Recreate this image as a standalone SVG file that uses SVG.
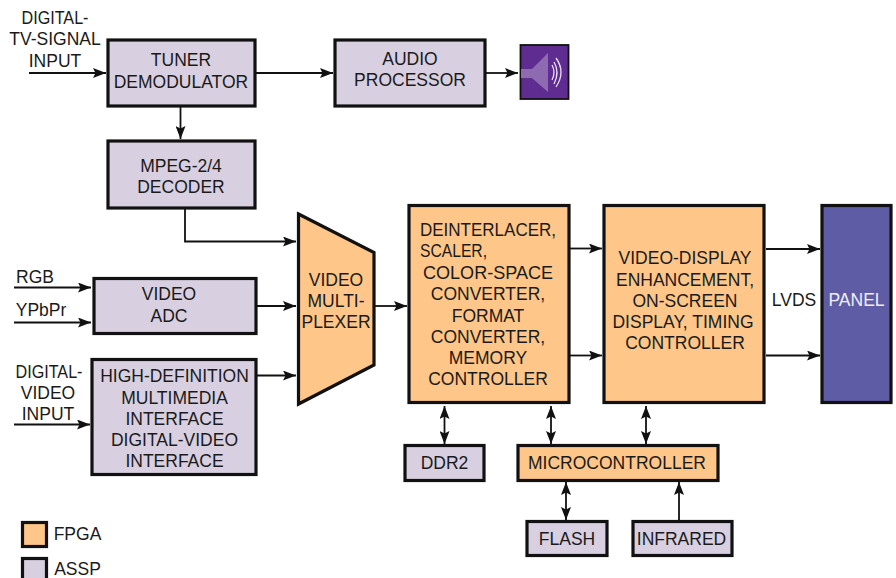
<svg xmlns="http://www.w3.org/2000/svg" width="896" height="578" viewBox="0 0 896 578">
<style>
text{font-family:"Liberation Sans",Arial,sans-serif;font-size:17.5px;fill:#1a1a1a;text-anchor:middle}
.a{fill:#d8d0e1;stroke:#111;stroke-width:3.2}
.f{fill:#fec689;stroke:#111;stroke-width:3.2}
.c{fill:none;stroke:#111;stroke-width:1.8;marker-end:url(#ah)}
.d{fill:none;stroke:#111;stroke-width:1.8;marker-end:url(#ah);marker-start:url(#as)}
</style>
<defs>
<marker id="ah" markerUnits="userSpaceOnUse" markerWidth="14" markerHeight="10" refX="13" refY="5" orient="auto"><path d="M0 0L13 5L0 10L2.5 5Z" fill="#111"/></marker>
<marker id="as" markerUnits="userSpaceOnUse" markerWidth="14" markerHeight="10" refX="0" refY="5" orient="auto"><path d="M13 0L0 5L13 10L10.5 5Z" fill="#111"/></marker>
</defs>
<g id="connectors">
<path class="c" d="M29 73H106"/>
<path class="c" d="M256 73H333"/>
<path class="c" d="M486 73H518"/>
<path class="c" d="M180.500 106V139"/>
<path class="c" d="M185 209V241.500H296"/>
<path class="c" d="M14 287.500H91"/>
<path class="c" d="M14 322.500H91"/>
<path class="c" d="M14 424.500H90"/>
<path class="c" d="M257 306H296"/>
<path class="c" d="M257 375.500H296"/>
<path class="c" d="M375 306H407"/>
<path class="c" d="M570 248.500H602"/>
<path class="c" d="M570 355.500H602"/>
<path class="c" d="M766 249H820"/>
<path class="c" d="M766 355.500H820"/>
<path class="d" d="M444.500 406V444"/>
<path class="d" d="M551 406V444"/>
<path class="d" d="M646 406V444"/>
<path class="d" d="M566 482V520"/>
<path class="c" d="M679 520V482"/>
</g>
<g id="tuner"><rect class="a" x="108" y="40" width="147" height="66"/><text x="181" y="66">TUNER</text><text x="181" y="88">DEMODULATOR</text></g>
<g id="audio"><rect class="a" x="335" y="40" width="150" height="66"/><text x="410" y="65">AUDIO</text><text x="410" y="86">PROCESSOR</text></g>
<g id="speaker"><rect x="520.500" y="45" width="48" height="54" fill="#5f2d91" stroke="#111" stroke-width="1.800"/><path d="M521 69H532L548 53V92L532 78H521Z" fill="#8e6bb0"/><path d="M552 65Q556 72 552 80M554 62Q560 72 554 84M556 58Q566 72 556 87" fill="none" stroke="#e9e2f1" stroke-width="1.300"/></g>
<g id="mpeg"><rect class="a" x="108" y="141" width="147" height="67"/><text x="181" y="172">MPEG-2/4</text><text x="181" y="193">DECODER</text></g>
<g id="adc"><rect class="a" x="94" y="278.500" width="162" height="55"/><text x="169" y="300">VIDEO</text><text x="169" y="322">ADC</text></g>
<g id="hdmi"><rect class="a" x="92" y="359.500" width="164" height="115"/><text x="174.500" y="382">HIGH-DEFINITION</text><text x="174.500" y="404">MULTIMEDIA</text><text x="174.500" y="425">INTERFACE</text><text x="174.500" y="446">DIGITAL-VIDEO</text><text x="174.500" y="467">INTERFACE</text></g>
<g id="mux"><path class="f" d="M298.500 214L374 252.500V365L298.500 404Z"/><text x="336" y="286">VIDEO</text><text x="336" y="307">MULTI-</text><text x="336" y="328">PLEXER</text></g>
<g id="deint"><rect class="f" x="409" y="205.500" width="160" height="197"/><text x="488" y="236" textLength="136" lengthAdjust="spacingAndGlyphs">DEINTERLACER,</text><text x="453.500" y="257" textLength="67" lengthAdjust="spacingAndGlyphs">SCALER,</text><text x="488" y="279" textLength="130" lengthAdjust="spacingAndGlyphs">COLOR-SPACE</text><text x="488" y="300">CONVERTER,</text><text x="488" y="322">FORMAT</text><text x="488" y="343">CONVERTER,</text><text x="488" y="364">MEMORY</text><text x="488" y="385">CONTROLLER</text></g>
<g id="vde"><rect class="f" x="604" y="205.500" width="160" height="197"/><text x="685" y="264">VIDEO-DISPLAY</text><text x="685" y="286">ENHANCEMENT,</text><text x="685" y="307">ON-SCREEN</text><text x="683" y="328">DISPLAY, TIMING</text><text x="685" y="349">CONTROLLER</text></g>
<g id="lvds"><text x="794" y="306">LVDS</text></g>
<g id="panel"><rect x="822" y="205.500" width="69" height="197" fill="#5f5ca6" stroke="#111" stroke-width="3.200"/><text x="856.500" y="306" style="fill:#f0eef8">PANEL</text></g>
<g id="ddr2"><rect class="a" x="405" y="445.500" width="79" height="35"/><text x="444.500" y="469">DDR2</text></g>
<g id="mcu"><rect class="f" x="518" y="445.500" width="200" height="35"/><text x="617" y="469">MICROCONTROLLER</text></g>
<g id="flash"><rect class="a" x="527" y="521.500" width="80" height="34"/><text x="567" y="545">FLASH</text></g>
<g id="infrared"><rect class="a" x="633" y="521.500" width="99" height="34"/><text x="681.500" y="545">INFRARED</text></g>
<g id="labels"><text x="55" y="24" textLength="67" lengthAdjust="spacingAndGlyphs">DIGITAL-</text><text x="55" y="45">TV-SIGNAL</text><text x="55" y="67">INPUT</text><text x="35" y="283">RGB</text><text x="41" y="316">YPbPr</text><text x="49" y="378" textLength="67" lengthAdjust="spacingAndGlyphs">DIGITAL-</text><text x="48" y="399">VIDEO</text><text x="48" y="420">INPUT</text></g>
<g id="legend-fpga"><rect class="f" x="22.500" y="522.500" width="24" height="24"/><text x="77.500" y="540">FPGA</text></g>
<g id="legend-assp"><rect class="a" x="22.500" y="558.500" width="24" height="24"/><text x="77.500" y="575">ASSP</text></g>
</svg>
